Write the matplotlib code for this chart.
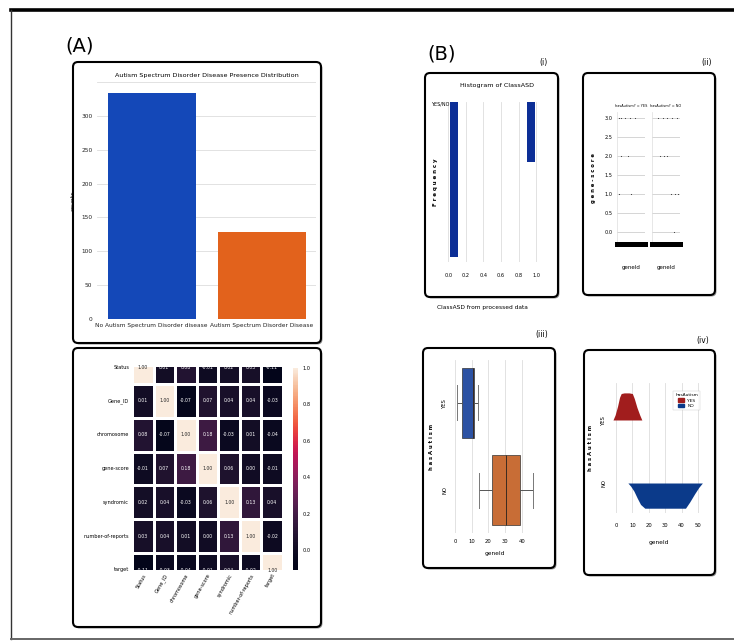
import matplotlib
matplotlib.use("Agg")
import matplotlib.pyplot as plt
import seaborn as sns
import numpy as np
from matplotlib.patches import FancyBboxPatch, Patch
from matplotlib.colors import ListedColormap

plt.rcParams['font.family'] = ['Liberation Sans Narrow', 'DejaVu Sans']

# ---------------- data ----------------
bar_categories = ["No Autism Spectrum Disorder disease", "Autism Spectrum Disorder Disease"]
bar_counts = [334, 129]
bar_yticks = [0, 50, 100, 150, 200, 250, 300]

corr_labels = ["Status", "Gene_ID", "chromosome", "gene-score", "syndromic",
               "number-of-reports", "target"]
corr_values = [
    [1.00, 0.01, 0.08, -0.01, 0.02, 0.03, -0.11],
    [0.01, 1.00, -0.07, 0.07, 0.04, 0.04, -0.03],
    [0.08, -0.07, 1.00, 0.18, -0.03, 0.01, -0.04],
    [-0.01, 0.07, 0.18, 1.00, 0.06, 0.00, -0.01],
    [0.02, 0.04, -0.03, 0.06, 1.00, 0.13, 0.04],
    [0.03, 0.04, 0.01, 0.00, 0.13, 1.00, -0.02],
    [-0.11, -0.03, -0.04, -0.01, 0.04, -0.02, 1.00],
]
cbar_ticks = [0.0, 0.2, 0.4, 0.6, 0.8, 1.0]

hist_bin_left = [0.02, 0.89]
hist_counts = [334, 129]
hist_xticks = [0.0, 0.2, 0.4, 0.6, 0.8, 1.0]

strip_yes_geneid = [1, 5, 12, 20, 28, 4, 16, 2, 22]
strip_yes_score = [3, 3, 3, 3, 3, 2, 2, 1, 1]
strip_no_geneid = [8, 16, 24, 32, 40, 12, 18, 24, 30, 38, 42, 36]
strip_no_score = [3, 3, 3, 3, 3, 2, 2, 2, 1, 1, 1, 0]
strip_yticks = [0.0, 0.5, 1.0, 1.5, 2.0, 2.5, 3.0]

box_groups = ["NO", "YES"]
box_q1 = [22.4, 4.1]
box_med = [30.6, 11.0]
box_q3 = [38.8, 11.2]
box_whislo = [14.1, 1.2]
box_whishi = [46.5, 13.5]
box_xticks = [0, 10, 20, 30, 40]

ridge_yes_x = [-1.8, -0.5, 1.0, 2.2, 3.2, 5, 8, 10.0, 11.2, 12.8, 14.5, 15.8]
ridge_yes_h = [0.0, 0.08, 0.22, 0.36, 0.42, 0.43, 0.43, 0.42, 0.34, 0.2, 0.08, 0.0]
ridge_no_x = [7.3, 9, 11, 13, 15, 17.6, 25, 35, 42.4, 45, 48, 50.5, 52.7]
ridge_no_h = [0.0, 0.05, 0.13, 0.24, 0.34, 0.4, 0.4, 0.4, 0.4, 0.3, 0.17, 0.07, 0.0]
ridge_xticks = [0, 10, 20, 30, 40, 50]

# ---------------- figure ----------------
W, H = 734, 641
fig = plt.figure(figsize=(W / 100, H / 100), dpi=100)
fig.patch.set_facecolor('white')

ov = fig.add_axes([0, 0, 1, 1], zorder=0)
ov.set_xlim(0, W)
ov.set_ylim(H, 0)
ov.axis('off')


def px_axes(x0, y0, x1, y1):
    return fig.add_axes([x0 / W, 1 - y1 / H, (x1 - x0) / W, (y1 - y0) / H], zorder=2)


def panel_box(x0, y0, x1, y1):
    ov.add_patch(FancyBboxPatch((x0 + 1.5, y0 + 1.5), x1 - x0, y1 - y0,
                                boxstyle="round,pad=0,rounding_size=5",
                                fc='#9a9a9a', ec='none', zorder=1))
    ov.add_patch(FancyBboxPatch((x0, y0), x1 - x0, y1 - y0,
                                boxstyle="round,pad=0,rounding_size=5",
                                fc='white', ec='black', lw=1.5, zorder=2))


# outer frame
ov.plot([11, 734], [10, 10], color='black', lw=2.6, zorder=3)
ov.plot([11, 11], [10, 639], color='#333333', lw=1.0, zorder=3)
ov.plot([11, 734], [639, 639], color='#666666', lw=1.4, zorder=3)

panel_box(73, 62, 321, 343)
panel_box(73, 348, 321, 627)
panel_box(425, 73, 558, 297)
panel_box(583, 73, 715, 295)
panel_box(423, 348, 555, 568)
panel_box(584, 350, 715, 575)

big = dict(fontsize=14, ha='center', va='center', zorder=5, fontweight='medium')
ov.text(80, 46, "(A)", **big)
ov.text(442, 54, "(B)", **big)
small_lab = dict(fontsize=5.5, ha='center', va='center', zorder=5)
ov.text(543, 62, "(i)", **small_lab)
ov.text(707, 62, "(ii)", **small_lab)
ov.text(542, 334, "(iii)", **small_lab)
ov.text(703, 341, "(iv)", **small_lab)

# ---------------- (A) bar chart ----------------
axA = px_axes(96.5, 82, 316.5, 319)
axA.bar(range(len(bar_counts)), bar_counts, width=0.8,
        color=['#1448b8', '#e2621c'], zorder=2)
axA.set_xlim(-0.5, 1.5)
axA.set_ylim(0, 350)
axA.set_yticks(bar_yticks + [350])
axA.set_yticklabels([str(v) for v in bar_yticks] + [""])
axA.set_xticks(range(len(bar_categories)))
axA.set_xticklabels(bar_categories)
axA.tick_params(length=0, labelsize=4.2, pad=3, colors='#222222')
axA.grid(axis='y', color='#dddddd', lw=0.6, zorder=0)
for s in axA.spines.values():
    s.set_visible(False)
axA.set_ylabel("counts", fontsize=4.4, labelpad=4)
ov.text(207, 76, "Autism Spectrum Disorder Disease Presence Distribution",
        fontsize=4.6, ha='center', va='center', zorder=5)

# ---------------- (A) heatmap ----------------
base = sns.color_palette("rocket", as_cmap=True)
cmap = ListedColormap(base(np.linspace(0, 1, 256) ** 1.35))
axH = px_axes(132, 367, 283, 570)
axC = px_axes(293, 368, 298, 570)
corr_arr = np.array(corr_values)
sns.heatmap(corr_arr, ax=axH, cbar_ax=axC, cmap=cmap, vmin=-0.11, vmax=1.0,
            annot=True, fmt=".2f", annot_kws={'fontsize': 3.3},
            linewidths=1.0, linecolor='white',
            xticklabels=corr_labels, yticklabels=corr_labels)
axH.set_ylim(6.5, 0.5)
axH.tick_params(length=0, labelsize=3.6, pad=2)
axH.set_yticklabels(corr_labels, rotation=0)
axH.set_xticklabels(corr_labels, rotation=60, ha='right', va='top',
                    rotation_mode='anchor')
axC.set_yticks(cbar_ticks)
axC.tick_params(length=0, labelsize=3.6, pad=3)
for s in axC.spines.values():
    s.set_visible(False)

# ---------------- (i) histogram ----------------
axI = px_axes(446, 102, 542, 262)
axI.bar(hist_bin_left, hist_counts, width=0.09, align='edge', color='#0c2e96', zorder=2)
axI.set_xlim(-0.025, 1.065)
axI.set_ylim(345, 0)
axI.set_xticks(hist_xticks)
axI.set_xticklabels([f"{v:.1f}" for v in hist_xticks])
axI.set_yticks([])
axI.tick_params(length=0, labelsize=3.6, pad=8)
axI.grid(axis='x', color='#dddddd', lw=0.6, zorder=0)
for s in axI.spines.values():
    s.set_visible(False)
axI.set_ylabel("F r e q u e n c y", fontsize=4.0, fontweight='bold', labelpad=6)
ov.text(497, 85, "Histogram of ClassASD", fontsize=4.6, ha='center', va='center', zorder=5)
fig.text(449 / W, 1 - 104 / H, "YES/NO", fontsize=3.5, ha='right', va='center', zorder=5)
ov.text(482, 307, "ClassASD from processed data", fontsize=4.2, ha='center',
        va='center', zorder=5)

# ---------------- (ii) strip facets ----------------
for k, (x0, x1, gx, gs, title) in enumerate([
        (617, 645, strip_yes_geneid, strip_yes_score, "hasAutism? = YES"),
        (652, 680, strip_no_geneid, strip_no_score, "hasAutism? = NO")]):
    a = px_axes(x0, 112, x1, 244)
    a.scatter(gx, gs, s=0.6, color='#333333', zorder=3, linewidths=0)
    a.set_xlim(-2, 46)
    a.set_ylim(-0.316, 3.16)
    a.set_yticks(strip_yticks)
    a.set_xticks([])
    a.grid(axis='y', color='#cfcfcf', lw=0.6, zorder=0)
    for nm, s in a.spines.items():
        s.set_visible(False)
    a.spines['bottom'].set_visible(True)
    a.spines['bottom'].set_linewidth(3.6)
    a.spines['bottom'].set_color('black')
    a.spines['left'].set_visible(True)
    a.spines['left'].set_color('#dddddd')
    a.spines['left'].set_linewidth(0.5)
    if k == 0:
        a.set_yticklabels([f"{v:.1f}" for v in strip_yticks])
        a.tick_params(axis='y', length=0, labelsize=3.6, pad=3)
        a.set_ylabel("g e n e - s c o r e", fontsize=3.8, fontweight='bold', labelpad=6)
    else:
        a.set_yticklabels([])
        a.tick_params(axis='y', length=0)
    ov.text((x0 + x1) / 2, 106, title, fontsize=2.5, ha='center', va='center', zorder=5)
    ov.text((x0 + x1) / 2, 267, "geneId", fontsize=4.0, ha='center', va='center', zorder=5)

# ---------------- (iii) boxplot ----------------
axB = px_axes(453, 360, 537, 533)
stats = []
for i in range(len(box_groups)):
    stats.append(dict(med=box_med[i], q1=box_q1[i], q3=box_q3[i],
                      whislo=box_whislo[i], whishi=box_whishi[i], fliers=[],
                      label=box_groups[i]))
bp = axB.bxp(stats, positions=[0, 1], widths=0.8, vert=False, patch_artist=True,
             showfliers=False, capwidths=0.4,
             medianprops=dict(color='#3a2a20', lw=0.7),
             whiskerprops=dict(color='#555555', lw=0.7),
             capprops=dict(color='#777777', lw=0.7),
             boxprops=dict(lw=0.5, edgecolor='#333333'))
for patch, col in zip(bp['boxes'], ['#c86d36', '#2c52a3']):
    patch.set_facecolor(col)
axB.set_xlim(-1.2, 49)
axB.set_ylim(-0.49, 1.49)
axB.set_xticks(box_xticks)
axB.set_yticks([0, 1])
axB.set_yticklabels(box_groups, rotation=90, va='center')
axB.tick_params(length=0, labelsize=3.8, pad=4)
axB.grid(axis='x', color='#dddddd', lw=0.6, zorder=0)
axB.set_axisbelow(True)
for s in axB.spines.values():
    s.set_visible(False)
axB.set_ylabel("h a s A u t i s m", fontsize=3.8, fontweight='bold', labelpad=6)
axB.set_xlabel("geneId", fontsize=4.2, labelpad=5)

# ---------------- (iv) ridge ----------------
axR = px_axes(612, 383, 705, 513)
axR.fill_between(ridge_yes_x, 1, 1 + np.array(ridge_yes_h), color='#a11d1d', lw=0, zorder=3)
axR.fill_between(ridge_no_x, 0, -np.array(ridge_no_h), color='#0b3a8a', lw=0, zorder=3)
axR.set_xlim(-2.4, 54.3)
axR.set_ylim(-0.476, 1.587)
axR.set_xticks(ridge_xticks)
axR.set_yticks([0, 1])
axR.set_yticklabels(["NO", "YES"], rotation=90, va='center')
axR.tick_params(length=0, labelsize=3.8, pad=4)
axR.tick_params(axis='x', pad=7)
axR.grid(axis='x', color='#dddddd', lw=0.6, zorder=0)
axR.set_axisbelow(True)
for s in axR.spines.values():
    s.set_visible(False)
axR.set_ylabel("h a s A u t i s m", fontsize=3.8, fontweight='bold', labelpad=6)
axR.set_xlabel("geneId", fontsize=4.2, labelpad=9)
leg = axR.legend(handles=[Patch(color='#a11d1d'), Patch(color='#0b3a8a')],
                 labels=["YES", "NO"], title="hasAutism", fontsize=3.2, title_fontsize=3.2,
                 loc='upper right', bbox_to_anchor=(702 / W, 1 - 389 / H),
                 bbox_transform=fig.transFigure, frameon=True, handlelength=1.4,
                 handleheight=0.8, borderpad=0.4, labelspacing=0.3, fancybox=False)
leg.get_frame().set_linewidth(0.3)
leg.get_frame().set_edgecolor('#bbbbbb')

fig.savefig("out.png", dpi=100)
